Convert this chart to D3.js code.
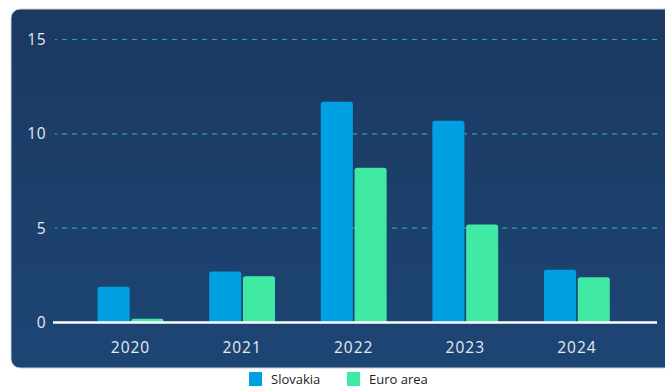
<!DOCTYPE html>
<html>
<head>
<meta charset="utf-8">
<script src="https://cdn.jsdelivr.net/npm/d3@7"></script>
<style>
  html, body { margin: 0; padding: 0; background: #ffffff; }
  svg { display: block; }
</style>
</head>
<body>
<svg id="chart" width="665" height="387"></svg>
<script>
// Annual inflation, %
const years = ["2020", "2021", "2022", "2023", "2024"];
const seriesNames = ["Slovakia", "Euro area"];
const slovakia = [1.9, 2.7, 11.7, 10.7, 2.8];
const euroArea = [0.2, 2.45, 8.2, 5.2, 2.4];
const yTicks = [0, 5, 10, 15];
const colors = ["#00a0e3", "#40eaa4"];

const svg = d3.select("#chart");

// panel background
const defs = svg.append("defs");
const grad = defs.append("linearGradient").attr("id", "panelBg")
  .attr("x1", 0).attr("y1", 0).attr("x2", 0).attr("y2", 1);
grad.append("stop").attr("offset", "0%").attr("stop-color", "#1b3961");
grad.append("stop").attr("offset", "100%").attr("stop-color", "#1d4574");

svg.append("rect")
  .attr("x", 11).attr("y", 9).attr("width", 670).attr("height", 359)
  .attr("rx", 9).attr("ry", 9)
  .attr("fill", "url(#panelBg)")
  .attr("stroke", "#c6d0dc").attr("stroke-width", 1);

const y = d3.scaleLinear().domain([0, 15]).range([322.5, 39.5]);
const x0 = d3.scaleBand().domain(years).range([74.7, 632.7])
  .paddingInner(0.38).paddingOuter(0.19);
const x1 = d3.scaleBand().domain(seriesNames).range([0, x0.bandwidth()]).padding(0.05);

const rows = years.map((yr, i) => ({ year: yr, values: [slovakia[i], euroArea[i]] }));

// y labels
const yAxis = d3.axisLeft(y).tickValues(yTicks).tickSize(0).tickPadding(0);
const gy = svg.append("g").attr("transform", "translate(46,0)").call(yAxis);
gy.select(".domain").remove();
gy.selectAll("text")
  .attr("fill", "#e6ebf2")
  .attr("font-family", "'Open Sans', sans-serif")
  .attr("font-size", 15.5)
  .attr("letter-spacing", 0.5)
  .attr("text-anchor", "end");

// dashed gridlines
svg.append("g").selectAll("line")
  .data(yTicks.filter(t => t > 0))
  .join("line")
  .attr("x1", 55).attr("x2", 660)
  .attr("y1", d => y(d)).attr("y2", d => y(d))
  .attr("stroke", "#2aa898")
  .attr("stroke-width", 1.1)
  .attr("stroke-dasharray", "5,5")
  .attr("stroke-dashoffset", 3);

// bars with slightly rounded tops
function topRounded(x, yTop, w, yBase, r) {
  const h = yBase - yTop;
  r = Math.min(r, h / 2, w / 2);
  return `M${x},${yBase}V${yTop + r}Q${x},${yTop} ${x + r},${yTop}H${x + w - r}Q${x + w},${yTop} ${x + w},${yTop + r}V${yBase}Z`;
}

svg.append("g").selectAll("g")
  .data(rows)
  .join("g")
  .attr("transform", d => `translate(${x0(d.year)},0)`)
  .selectAll("path")
  .data(d => d.values.map((v, k) => ({ key: seriesNames[k], v, k })))
  .join("path")
  .attr("fill", d => colors[d.k])
  .attr("d", d => topRounded(x1(d.key), y(d.v), x1.bandwidth(), y(0), 2.5));

// baseline
svg.append("line")
  .attr("x1", 53).attr("x2", 657)
  .attr("y1", y(0)).attr("y2", y(0))
  .attr("stroke", "#ffffff").attr("stroke-width", 2.5);

// x labels
const xAxis = d3.axisBottom(x0).tickSize(0).tickPadding(0);
const gx = svg.append("g").attr("transform", `translate(0,${y(0) + 30})`).call(xAxis);
gx.select(".domain").remove();
gx.selectAll("text")
  .attr("dy", 0)
  .attr("fill", "#e6ebf2")
  .attr("font-family", "'Open Sans', sans-serif")
  .attr("font-size", 15.5)
  .attr("letter-spacing", 1);

// legend
const legendItems = [
  { name: seriesNames[0], color: colors[0], x: 249 },
  { name: seriesNames[1], color: colors[1], x: 347 }
];
const lg = svg.append("g").selectAll("g").data(legendItems).join("g")
  .attr("transform", d => `translate(${d.x},372)`);
lg.append("rect").attr("width", 13).attr("height", 14).attr("fill", d => d.color);
lg.append("text")
  .attr("x", 22).attr("y", 12)
  .attr("fill", "#222222")
  .attr("font-family", "'Open Sans', sans-serif")
  .attr("font-size", 13)
  .text(d => d.name);
</script>
</body>
</html>
